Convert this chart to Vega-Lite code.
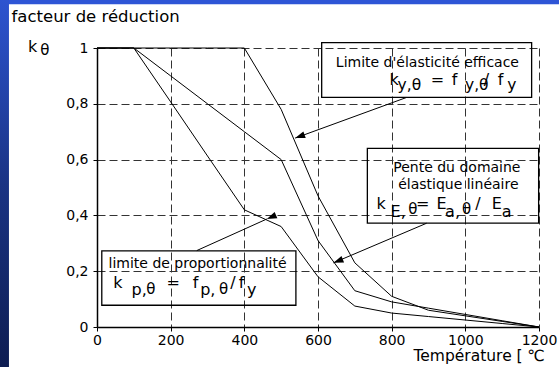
{
  "$schema": "https://vega.github.io/schema/vega-lite/v6.json",
  "width": 442,
  "height": 279,
  "autosize": {"type": "none"},
  "padding": {"left": 97, "top": 48, "right": 20, "bottom": 40},
  "background": "white",
  "config": {"view": {"stroke": null}, "font": "DejaVu Sans"},
  "datasets": {
    "curves": [
      {"s": "ky", "x": 0, "y": 1}, {"s": "ky", "x": 100, "y": 1}, {"s": "ky", "x": 200, "y": 1}, {"s": "ky", "x": 300, "y": 1}, {"s": "ky", "x": 400, "y": 1},
      {"s": "ky", "x": 500, "y": 0.78}, {"s": "ky", "x": 600, "y": 0.47}, {"s": "ky", "x": 700, "y": 0.23}, {"s": "ky", "x": 800, "y": 0.11},
      {"s": "ky", "x": 900, "y": 0.06}, {"s": "ky", "x": 1000, "y": 0.04}, {"s": "ky", "x": 1100, "y": 0.02}, {"s": "ky", "x": 1200, "y": 0},
      {"s": "kp", "x": 0, "y": 1}, {"s": "kp", "x": 100, "y": 1}, {"s": "kp", "x": 200, "y": 0.807}, {"s": "kp", "x": 300, "y": 0.613}, {"s": "kp", "x": 400, "y": 0.42},
      {"s": "kp", "x": 500, "y": 0.36}, {"s": "kp", "x": 600, "y": 0.18}, {"s": "kp", "x": 700, "y": 0.075}, {"s": "kp", "x": 800, "y": 0.05},
      {"s": "kp", "x": 900, "y": 0.0375}, {"s": "kp", "x": 1000, "y": 0.025}, {"s": "kp", "x": 1100, "y": 0.0125}, {"s": "kp", "x": 1200, "y": 0},
      {"s": "kE", "x": 0, "y": 1}, {"s": "kE", "x": 100, "y": 1}, {"s": "kE", "x": 200, "y": 0.9}, {"s": "kE", "x": 300, "y": 0.8}, {"s": "kE", "x": 400, "y": 0.7},
      {"s": "kE", "x": 500, "y": 0.6}, {"s": "kE", "x": 600, "y": 0.31}, {"s": "kE", "x": 700, "y": 0.13}, {"s": "kE", "x": 800, "y": 0.09},
      {"s": "kE", "x": 900, "y": 0.0675}, {"s": "kE", "x": 1000, "y": 0.045}, {"s": "kE", "x": 1100, "y": 0.0225}, {"s": "kE", "x": 1200, "y": 0}
    ],
    "topstrip": [{"x": -264, "x2": 1256, "y": 1.172, "y2": 1.157}],
    "leftstrip": [{"x": -264, "x2": -239, "y": 1.172, "y2": -0.144}],
    "boxes": [
      {"x": 610, "x2": 1180, "y": 1.019, "y2": 0.823},
      {"x": 734, "x2": 1199, "y": 0.64, "y2": 0.372},
      {"x": 13, "x2": 540, "y": 0.273, "y2": 0.078}
    ],
    "arrows": [
      {"id": "a1", "x0": 841, "y0": 0.823, "x": 538, "y": 0.677},
      {"id": "a2", "x0": 895, "y0": 0.372, "x": 642, "y": 0.23},
      {"id": "a3", "x0": 271, "y0": 0.274, "x": 461, "y": 0.387}
    ],
    "lines": [
      {"x": 897, "y": 0.933, "t": "Limite d'élasticité efficace"},
      {"x": 977, "y": 0.557, "t": "Pente du domaine"},
      {"x": 981, "y": 0.494, "t": "élastique linéaire"},
      {"x": 273, "y": 0.21, "t": "limite de proportionnalité"}
    ],
    "pieces": [
      {"x": -232, "y": 1.094, "t": "facteur de réduction", "role": "title"},
      {"x": -187, "y": 0.987, "t": "k", "role": "main"},
      {"x": -154, "y": 0.975, "t": "θ", "role": "tiny"},
      {"x": 794, "y": 0.867, "t": "k", "role": "main"},
      {"x": 816, "y": 0.851, "t": "y,θ", "role": "sub"},
      {"x": 906, "y": 0.867, "t": "=", "role": "main"},
      {"x": 963, "y": 0.867, "t": "f", "role": "main"},
      {"x": 999, "y": 0.851, "t": "y,θ", "role": "sub"},
      {"x": 1050, "y": 0.867, "t": "/", "role": "main"},
      {"x": 1088, "y": 0.867, "t": "f", "role": "main"},
      {"x": 1114, "y": 0.851, "t": "y", "role": "sub"},
      {"x": 759, "y": 0.422, "t": "k", "role": "main"},
      {"x": 797, "y": 0.393, "t": "E,", "role": "main"},
      {"x": 845, "y": 0.405, "t": "θ", "role": "tiny"},
      {"x": 866, "y": 0.422, "t": "=", "role": "main"},
      {"x": 922, "y": 0.422, "t": "E", "role": "main"},
      {"x": 945, "y": 0.395, "t": "a,", "role": "main"},
      {"x": 991, "y": 0.405, "t": "θ", "role": "tiny"},
      {"x": 1027, "y": 0.422, "t": "/", "role": "main"},
      {"x": 1072, "y": 0.422, "t": "E", "role": "main"},
      {"x": 1099, "y": 0.395, "t": "a", "role": "main"},
      {"x": 44, "y": 0.139, "t": "k", "role": "main"},
      {"x": 94, "y": 0.115, "t": "p,", "role": "main"},
      {"x": 134, "y": 0.118, "t": "θ", "role": "tiny"},
      {"x": 189, "y": 0.139, "t": "=", "role": "main"},
      {"x": 260, "y": 0.139, "t": "f", "role": "main"},
      {"x": 280, "y": 0.115, "t": "p,", "role": "main"},
      {"x": 331, "y": 0.118, "t": "θ", "role": "tiny"},
      {"x": 362, "y": 0.139, "t": "/", "role": "main"},
      {"x": 385, "y": 0.139, "t": "f", "role": "main"},
      {"x": 407, "y": 0.115, "t": "y", "role": "main"}
    ]
  },
  "encoding": {
    "x": {
      "field": "x", "type": "quantitative",
      "scale": {"domain": [0, 1200], "nice": false, "zero": false},
      "axis": {
        "values": [0, 200, 400, 600, 800, 1000, 1200], "format": "d",
        "title": "Température [ ℃", "titleX": 316, "titleY": 33, "titleAlign": "left", "titleAnchor": "start", "titleBaseline": "alphabetic",
        "titleFontSize": 15.5, "titleFontWeight": "normal", "titleColor": "black", "titleFont": "DejaVu Sans",
        "labelFont": "DejaVu Sans", "labelFontSize": 14, "labelColor": "black", "labelPadding": 2, "labelFlush": false, "labelOverlap": false, "labelBound": false,
        "tickColor": "black", "tickSize": 4, "domainColor": "black", "domainWidth": 1.5,
        "grid": true, "gridColor": "#333333", "gridDash": [8, 4], "gridWidth": 1,
        "gridOpacity": {"condition": {"test": "datum.value === 0", "value": 0}, "value": 1}
      }
    },
    "y": {
      "field": "y", "type": "quantitative",
      "scale": {"domain": [0, 1], "nice": false, "zero": false},
      "axis": {
        "values": [0, 0.2, 0.4, 0.6, 0.8, 1], "labelExpr": "replace(format(datum.value, '.1~f'), '.', ',')",
        "title": null,
        "labelFont": "DejaVu Sans", "labelFontSize": 14, "labelColor": "black", "labelPadding": 5, "labelFlush": false, "labelOverlap": false, "labelBound": false,
        "tickColor": "black", "tickSize": 4, "domainColor": "black", "domainWidth": 1.5,
        "grid": true, "gridColor": "#333333", "gridDash": [8, 4], "gridWidth": 1,
        "gridOpacity": {"condition": {"test": "datum.value === 0", "value": 0}, "value": 1}
      }
    }
  },
  "layer": [
    {
      "data": {"name": "topstrip"},
      "mark": {"type": "rect", "color": "#2e55d6"},
      "encoding": {"x2": {"field": "x2"}, "y2": {"field": "y2"}}
    },
    {
      "data": {"name": "leftstrip"},
      "mark": {"type": "rect", "color": {"gradient": "linear", "x1": 0, "y1": 0, "x2": 0, "y2": 1, "stops": [{"offset": 0, "color": "#2d54d0"}, {"offset": 0.5, "color": "#1a3384"}, {"offset": 1, "color": "#0e1d52"}]}},
      "encoding": {"x2": {"field": "x2"}, "y2": {"field": "y2"}}
    },
    {
      "data": {"name": "curves"},
      "mark": {"type": "line", "color": "black", "strokeWidth": 1},
      "encoding": {"detail": {"field": "s"}}
    },
    {
      "data": {"name": "boxes"},
      "mark": {"type": "rect", "fillOpacity": 0, "stroke": "black", "strokeWidth": 1.3},
      "encoding": {"x2": {"field": "x2"}, "y2": {"field": "y2"}}
    },
    {
      "data": {"name": "arrows"},
      "mark": {"type": "rule", "color": "black", "strokeWidth": 1},
      "encoding": {
        "x": {"field": "x0", "type": "quantitative"}, "y": {"field": "y0", "type": "quantitative"},
        "x2": {"field": "x"}, "y2": {"field": "y"}
      }
    },
    {
      "data": {"name": "arrows"},
      "mark": {"type": "point", "shape": "M0,0L0.7,2L-0.7,2Z", "filled": true, "color": "black", "opacity": 1, "size": 100},
      "encoding": {
        "angle": {"field": "id", "type": "ordinal", "scale": {"domain": ["a1", "a2", "a3"], "range": [250, 247, 66]}, "legend": null}
      }
    },
    {
      "data": {"name": "lines"},
      "mark": {"type": "text", "align": "center", "baseline": "alphabetic", "color": "black", "fontSize": 14, "font": "DejaVu Sans"},
      "encoding": {"text": {"field": "t"}}
    },
    {
      "data": {"name": "pieces"},
      "mark": {"type": "text", "align": "left", "baseline": "alphabetic", "color": "black", "font": "DejaVu Sans"},
      "encoding": {
        "text": {"field": "t"},
        "size": {"field": "role", "type": "ordinal", "scale": {"domain": ["title", "main", "sub", "tiny"], "range": [16.5, 15, 10, 8]}, "legend": null}
      }
    }
  ]
}
